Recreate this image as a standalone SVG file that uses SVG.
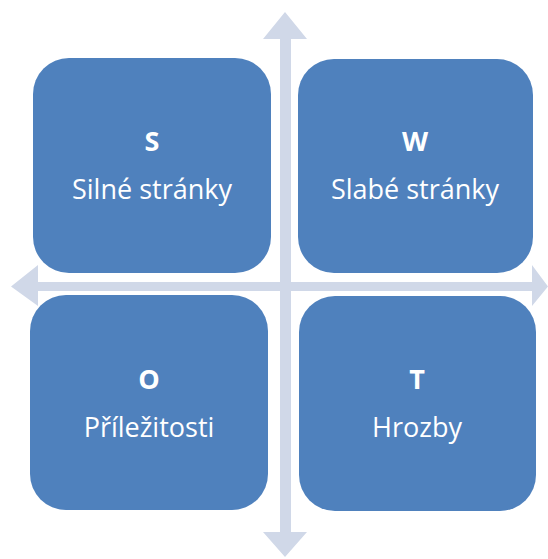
<svg xmlns="http://www.w3.org/2000/svg" width="548" height="559" viewBox="0 0 548 559">
<style>
.box{fill:#4F81BD;}
.arr{fill:#D0D8E8;}
.t{font-family:"Open Sans","Liberation Sans",sans-serif;fill:#FFFFFF;text-anchor:middle;}
.h{font-size:27px;font-weight:bold;}
.l{font-size:27px;}
</style>
<rect width="548" height="559" fill="#FFFFFF"/>
<g id="connectors">
<polygon class="arr" points="285,12 307,39 291,39 291,282 532,282 532,265 548,286.5 532,306 532,291 291,291 291,532 307,532 285,557 263,532 280,532 280,291 38,291 38,306 11,286.5 38,265 38,282 280,282 280,39 263,39"/>
</g>
<g id="node-s">
<rect class="box" x="33" y="58" width="238" height="215" rx="36"/>
<text class="t h" x="152" y="151">S</text>
<text class="t l" x="152" y="199">Silné stránky</text>
</g>
<g id="node-w">
<rect class="box" x="298" y="59" width="235" height="214" rx="36"/>
<text class="t h" x="415" y="151">W</text>
<text class="t l" x="415" y="199">Slabé stránky</text>
</g>
<g id="node-o">
<rect class="box" x="30" y="295" width="238" height="215" rx="36"/>
<text class="t h" x="149" y="389">O</text>
<text class="t l" x="149" y="437">Příležitosti</text>
</g>
<g id="node-t">
<rect class="box" x="299" y="296" width="237" height="215" rx="36"/>
<text class="t h" x="417" y="389">T</text>
<text class="t l" x="417" y="437">Hrozby</text>
</g>
</svg>
